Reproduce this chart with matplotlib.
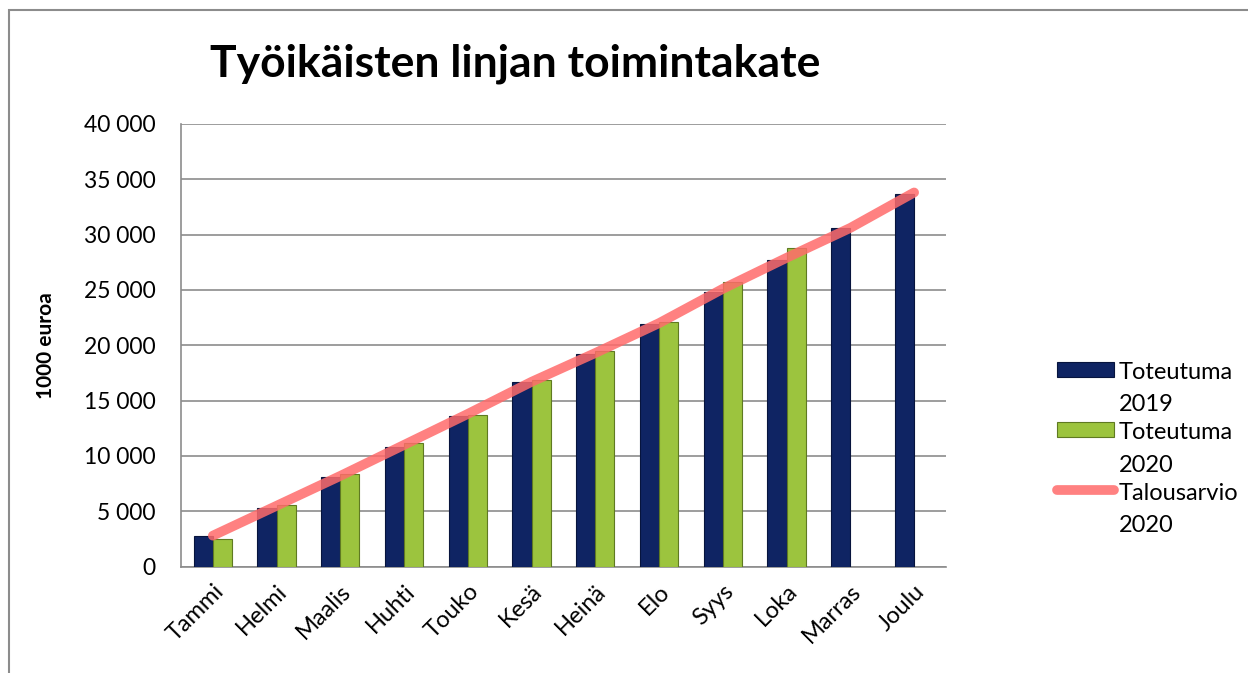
import matplotlib.pyplot as plt
import numpy as np
from matplotlib.patches import Rectangle
from matplotlib.legend_handler import HandlerPatch, HandlerLine2D
from matplotlib.transforms import Affine2D

months = ['Tammi', 'Helmi', 'Maalis', 'Huhti', 'Touko', 'Kesä',
          'Heinä', 'Elo', 'Syys', 'Loka', 'Marras', 'Joulu']
toteutuma_2019 = [2800, 5300, 8100, 10800, 13600, 16700,
                  19200, 21900, 24800, 27700, 30600, 33700]
toteutuma_2020 = [2500, 5600, 8400, 11200, 13700, 16900,
                  19500, 22100, 25700, 28800]
talousarvio_2020 = [2800, 5500, 8200, 11000, 13800, 16700,
                    19300, 22000, 25100, 27900, 30600, 33800]
yticks = [0, 5000, 10000, 15000, 20000, 25000, 30000, 35000, 40000]

plt.rcParams['font.family'] = ['Lato', 'DejaVu Sans']

LEG_SHIFT = 14  # points: put legend keys next to the first text line


class RaisedPatch(HandlerPatch):
    def create_artists(self, *args, **kwargs):
        arts = super().create_artists(*args, **kwargs)
        trans = args[-1]
        for a in arts:
            a.set_transform(Affine2D().translate(0, LEG_SHIFT) + trans)
        return arts


class RaisedLine(HandlerLine2D):
    def create_artists(self, *args, **kwargs):
        arts = super().create_artists(*args, **kwargs)
        trans = args[-1]
        for a in arts:
            a.set_transform(Affine2D().translate(0, LEG_SHIFT) + trans)
        return arts


fig = plt.figure(figsize=(12.48, 6.73), dpi=100)
ax = fig.add_axes([0.1450, 0.158, 0.613, 0.658])

# chart border
fig.patches.append(Rectangle((9 / 1248, -0.01), 1.0, 1 - 10 / 673 + 0.01,
                             transform=fig.transFigure, fill=False,
                             edgecolor='#8c8c8c', linewidth=1.5))

x = np.arange(len(months))
w = 0.3
b1 = ax.bar(x[:len(toteutuma_2019)] - w / 2, toteutuma_2019, w,
            color='#0f2463', edgecolor='#07143d', linewidth=0.8, zorder=3)
b2 = ax.bar(x[:len(toteutuma_2020)] + w / 2, toteutuma_2020, w,
            color='#9cc43e', edgecolor='#5f7a22', linewidth=0.8, zorder=3)
ln, = ax.plot(x[:len(talousarvio_2020)], talousarvio_2020, color='#ff6b6b',
              alpha=0.85, linewidth=7, solid_capstyle='round', zorder=4)

ax.set_xlim(-0.5, len(months) - 0.5)
ax.set_ylim(0, 40000)
ax.set_yticks(yticks)
ax.set_yticklabels([f'{v:,}'.replace(',', ' ') for v in yticks], fontsize=16.5)
ax.set_xticks(x)
ax.set_xticklabels(months, rotation=45, ha='right', rotation_mode='anchor',
                   fontsize=17)
ax.tick_params(axis='y', length=0, pad=18)
ax.tick_params(axis='x', length=0, pad=10)
ax.grid(axis='y', color='#8c8c8c', linewidth=1.2, zorder=0)
for side in ['top', 'right']:
    ax.spines[side].set_visible(False)
for side in ['left', 'bottom']:
    ax.spines[side].set_color('#8c8c8c')
    ax.spines[side].set_linewidth(1.2)

ax.set_ylabel('1000 euroa', fontsize=15, fontweight='bold', labelpad=20)
fig.text(0.413, 0.905, 'Työikäisten linjan toimintakate', fontsize=32,
         fontweight='bold', ha='center', va='center')

h1, h2 = b1.patches[0], b2.patches[0]
leg = fig.legend([h1, h2, ln],
                 ['Toteutuma\n2019', 'Toteutuma\n2020', 'Talousarvio\n2020'],
                 handler_map={h1: RaisedPatch(), h2: RaisedPatch(),
                              ln: RaisedLine()},
                 loc='center left', bbox_to_anchor=(0.830, 0.333),
                 frameon=False, fontsize=17, handlelength=2.4,
                 handleheight=0.6, handletextpad=0.2, labelspacing=0.3)
for t in leg.get_texts():
    t.set_linespacing(1.66)

fig.savefig('out.png', dpi=100)
